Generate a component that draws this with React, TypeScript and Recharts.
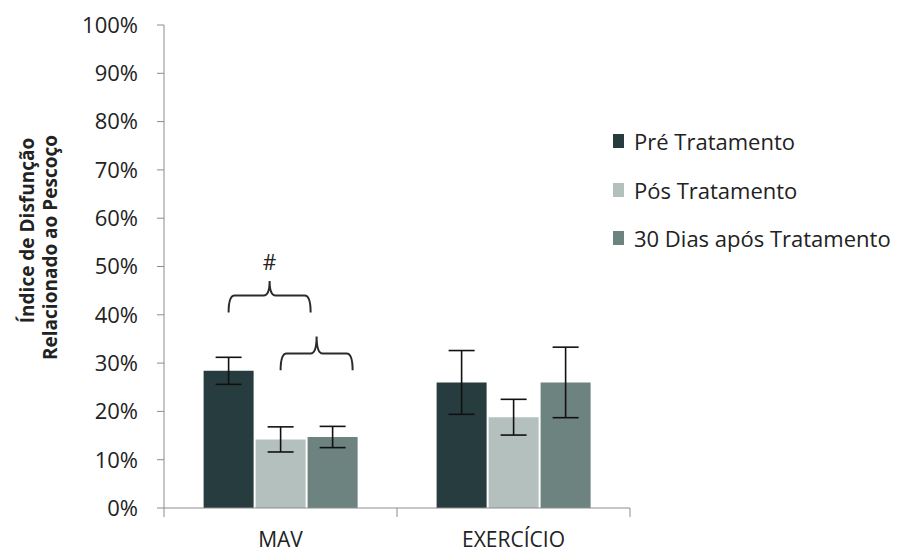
import { BarChart, Bar, XAxis, YAxis, ErrorBar, Legend, LabelList } from 'recharts';

const groups = ['MAV', 'EXERCÍCIO'];
const preValues = [28.4, 26.0];
const preErrors = [2.8, 6.6];
const posValues = [14.2, 18.8];
const posErrors = [2.6, 3.7];
const diasValues = [14.7, 26.0];
const diasErrors = [2.2, 7.3];
const yTicks = [0, 10, 20, 30, 40, 50, 60, 70, 80, 90, 100];
const seriesNames = ['Pré Tratamento', 'Pós Tratamento', '30 Dias após Tratamento'];
const seriesColors = ['#263c3f', '#b4c0be', '#6d8380'];
// significance brackets over MAV: [top, tip, end] in %
const bracketPreVsRest = [44, 47, 40.5];
const bracketPosVsDias = [32, 35.5, 28.5];

const FONT = '"Open Sans", sans-serif';
const AXIS = '#8c8c8c';

const data = groups.map((g, i) => ({
  group: g,
  pre: preValues[i], preErr: preErrors[i],
  pos: posValues[i], posErr: posErrors[i],
  dias: diasValues[i], diasErr: diasErrors[i],
}));

function bracketPath(xl: number, xr: number, yTop: number, yTip: number, yEnd: number) {
  const xm = (xl + xr) / 2;
  const r = 6;
  return `M${xl},${yEnd} Q${xl},${yTop} ${xl + r},${yTop} L${xm - r},${yTop} Q${xm},${yTop} ${xm},${yTip}`
    + ` Q${xm},${yTop} ${xm + r},${yTop} L${xr - r},${yTop} Q${xr},${yTop} ${xr},${yEnd}`;
}

// drawn from the "Pós" bar of MAV, using the bar's own scale
const Brackets = (props: any) => {
  const { x, y, width, height, value, index } = props;
  if (index !== 0) return null;
  const base = y + height;
  const unit = height / value;
  const yAt = (v: number) => base - v * unit;
  const b1l = x - 2 - width / 2;
  const b1r = x + width + 5;
  const b2l = x + width / 2;
  const b2r = x + 2 * width - 3;
  const [t1, p1, e1] = bracketPreVsRest;
  const [t2, p2, e2] = bracketPosVsDias;
  return (
    <g>
      <path d={bracketPath(b1l, b1r, yAt(t1), yAt(p1), yAt(e1))} fill="none" stroke="#2b2b2b" strokeWidth={2} />
      <path d={bracketPath(b2l, b2r, yAt(t2), yAt(p2), yAt(e2))} fill="none" stroke="#2b2b2b" strokeWidth={2} />
      <text x={(b1l + b1r) / 2} y={yAt(p1) - 11} textAnchor="middle" fontFamily={FONT} fontSize={21} fill="#222">#</text>
    </g>
  );
};

// category label at the band centre, tick marks at the band edges (Excel style)
const CategoryTick = (props: any) => {
  const { x, y, payload, index } = props;
  const half = payload?.offset || 0;
  return (
    <g>
      {half > 0 && index === 0 && <line x1={x - half} x2={x - half} y1={y} y2={y + 9} stroke={AXIS} />}
      {half > 0 && <line x1={x + half} x2={x + half} y1={y} y2={y + 9} stroke={AXIS} />}
      <text x={x} y={y + 32} dy="0.355em" textAnchor="middle" fontFamily={FONT} fontSize={21} fill="#222">
        {payload.value}
      </text>
    </g>
  );
};

const YLabel = (props: any) => {
  const vb = props.viewBox || {};
  const cy = vb.y + vb.height / 2 - 24;
  return (
    <g fontFamily={FONT} fontWeight="bold" fontSize={19} fill="#222">
      <text x={27} y={cy - 12} textAnchor="middle" dominantBaseline="central" transform={`rotate(-90, 27, ${cy - 12})`}>
        Índice de Disfunção
      </text>
      <text x={50} y={cy + 5} textAnchor="middle" dominantBaseline="central" transform={`rotate(-90, 50, ${cy + 5})`}>
        Relacionado ao Pescoço
      </text>
    </g>
  );
};

const LegendBox = () => (
  <div style={{ fontFamily: FONT, fontSize: 22, color: '#222' }}>
    {seriesNames.map((n, i) => (
      <div key={n} style={{ display: 'flex', alignItems: 'center', height: 48.5 }}>
        <span style={{ width: 11, height: 14, background: seriesColors[i], marginRight: 10, display: 'inline-block' }} />
        <span>{n}</span>
      </div>
    ))}
  </div>
);

export default function App() {
  return (
    <div style={{ position: 'absolute', left: 0, top: 0, width: 899, height: 554, background: '#fff' }}>
      <BarChart width={899} height={554} data={data} barCategoryGap="17%" barGap={2}
        margin={{ top: 25, right: 269, bottom: 0, left: 0 }}>
        <XAxis dataKey="group" stroke={AXIS} tickLine={false} tickSize={0} tickMargin={0} height={46}
          interval={0} tick={<CategoryTick />} />
        <YAxis domain={[0, 100]} ticks={yTicks} width={164} tickSize={7} tickMargin={19}
          stroke={AXIS} tickFormatter={(v: number) => `${v}%`}
          tick={{ fontFamily: FONT, fontSize: 22, fill: '#222' }} label={<YLabel />} />
        <Legend layout="vertical" align="center" verticalAlign="middle" content={<LegendBox />}
          wrapperStyle={{ left: 613, top: 117, width: 286 }} />
        <Bar dataKey="pre" name={seriesNames[0]} fill={seriesColors[0]} isAnimationActive={false}>
          <ErrorBar dataKey="preErr" width={13} stroke="#111" strokeWidth={1.6} />
        </Bar>
        <Bar dataKey="pos" name={seriesNames[1]} fill={seriesColors[1]} isAnimationActive={false}>
          <ErrorBar dataKey="posErr" width={13} stroke="#111" strokeWidth={1.6} />
          <LabelList dataKey="pos" content={<Brackets />} />
        </Bar>
        <Bar dataKey="dias" name={seriesNames[2]} fill={seriesColors[2]} isAnimationActive={false}>
          <ErrorBar dataKey="diasErr" width={13} stroke="#111" strokeWidth={1.6} />
        </Bar>
      </BarChart>
    </div>
  );
}
